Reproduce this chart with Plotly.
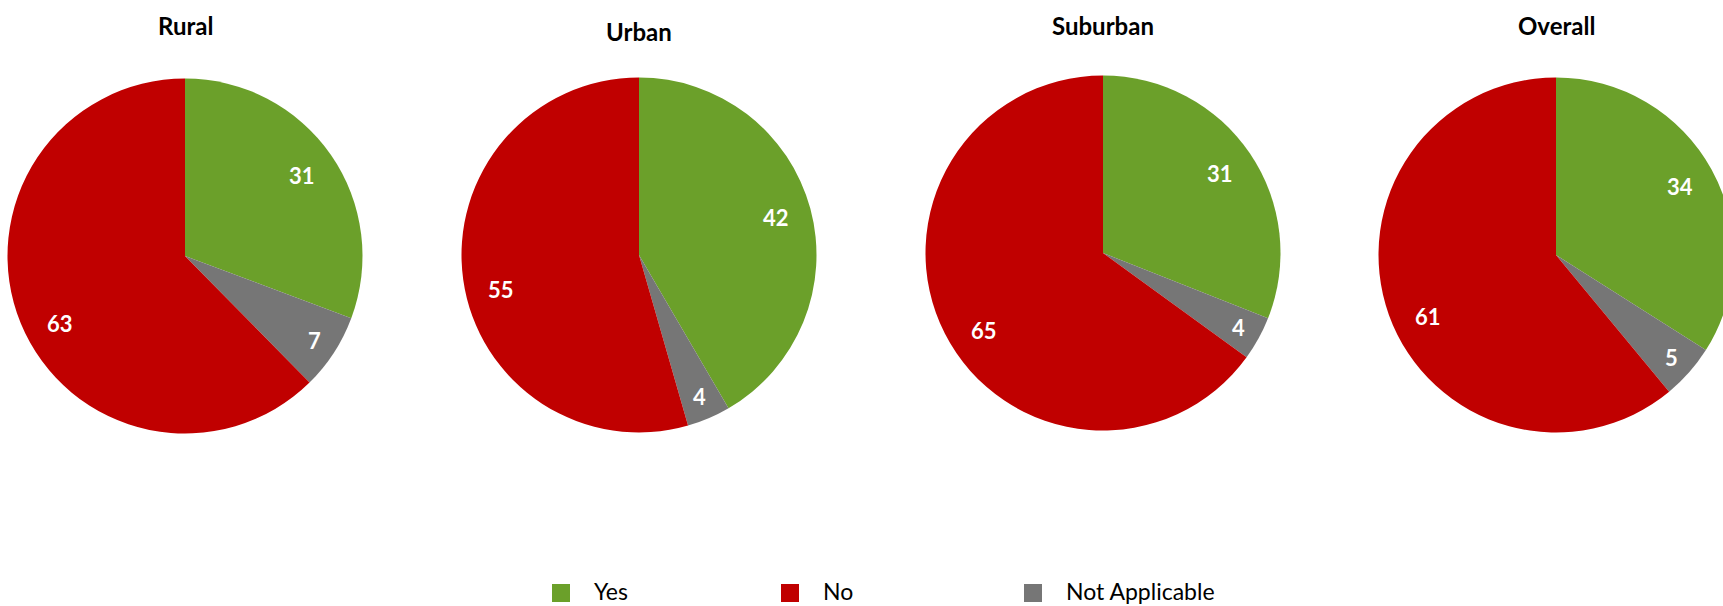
import math
import plotly.graph_objects as go

# ---- data ----
groups = ["Rural", "Urban", "Suburban", "Overall"]
categories = ["Yes", "Not Applicable", "No"]          # clockwise slice order
yes_vals = [31, 42, 31, 34]
na_vals = [7, 4, 4, 5]
no_vals = [63, 55, 65, 61]
legend_order = ["Yes", "No", "Not Applicable"]

colors = {"Yes": "#6BA02A", "No": "#C00000", "Not Applicable": "#767676"}
label_angle_shift = {"Yes": 0.0, "Not Applicable": 0.0, "No": -6.0}  # degrees

# ---- layout geometry (pixels) ----
W, H = 1745, 606
R = 177.5
centers = [(185, 256), (639, 255), (1103, 253), (1556, 255)]
title_y = [25, 31, 25, 25]
FONT = "Lato"

fig = go.Figure()
annotations = []
for i, g in enumerate(groups):
    vals = [yes_vals[i], na_vals[i], no_vals[i]]
    cx, cy = centers[i]
    fig.add_trace(go.Pie(
        labels=categories, values=vals, sort=False, direction="clockwise",
        rotation=0, textinfo="none", hoverinfo="label+value",
        marker=dict(colors=[colors[c] for c in categories]),
        domain=dict(x=[(cx - R) / W, (cx + R) / W],
                    y=[(H - cy - R) / H, (H - cy + R) / H]),
        showlegend=False,
    ))
    # data labels
    total = sum(vals)
    cum = 0
    for c, v in zip(categories, vals):
        mid = (cum + v / 2) / total * 2 * math.pi + math.radians(label_angle_shift[c])
        cum += v
        rr = R * (0.87 if v / total < 0.1 else 0.80)
        lx = cx + rr * math.sin(mid)
        ly = cy - rr * math.cos(mid)
        annotations.append(dict(
            x=lx / W, y=1 - ly / H, xref="paper", yref="paper",
            xanchor="center", yanchor="middle",
            text=f"<b>{v}</b>", showarrow=False,
            font=dict(family=FONT, size=22, color="white"),
        ))
    annotations.append(dict(
        x=cx / W, y=1 - title_y[i] / H, xref="paper", yref="paper",
        xanchor="center", yanchor="middle",
        text=f"<b>{g}</b>", showarrow=False,
        font=dict(family=FONT, size=24, color="black"),
    ))

# ---- legend ----
legend_x = [552, 781, 1024]
shapes = []
for lx, c in zip(legend_x, legend_order):
    shapes.append(dict(type="rect", xref="paper", yref="paper",
                       x0=lx / W, x1=(lx + 18) / W,
                       y0=1 - 602 / H, y1=1 - 584 / H,
                       fillcolor=colors[c], line=dict(width=0)))
    annotations.append(dict(
        x=(lx + 40) / W, y=1 - 591 / H, xref="paper", yref="paper",
        xanchor="left", yanchor="middle", text=c, showarrow=False,
        font=dict(family=FONT, size=23, color="black"),
    ))

fig.update_layout(
    width=W, height=H, margin=dict(l=0, r=0, t=0, b=0),
    paper_bgcolor="white", plot_bgcolor="white",
    annotations=annotations, shapes=shapes, showlegend=False,
)

fig.write_html(
    "out.html",
    config={"displayModeBar": False},
    post_script="document.body.style.margin='0';document.body.style.overflow='hidden';"
                "document.documentElement.style.overflow='hidden';",
)
